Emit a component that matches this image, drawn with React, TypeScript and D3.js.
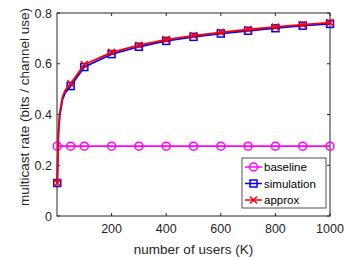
import React, { useRef, useEffect } from 'react';
import * as d3 from 'd3';

const users = [1, 5, 10, 20, 30, 50, 100, 200, 300, 400, 500, 600, 700, 800, 900, 1000];
const markedUsers = [1, 50, 100, 200, 300, 400, 500, 600, 700, 800, 900, 1000];
const baseline = [0.275, 0.275, 0.275, 0.275, 0.275, 0.275, 0.275, 0.275, 0.275, 0.275, 0.275, 0.275, 0.275, 0.275, 0.275, 0.275];
const simulation = [0.13, 0.32, 0.395, 0.46, 0.485, 0.512, 0.587, 0.638, 0.667, 0.69, 0.706, 0.719, 0.73, 0.74, 0.75, 0.757];
const approx = [0.13, 0.33, 0.405, 0.47, 0.495, 0.522, 0.597, 0.645, 0.673, 0.695, 0.711, 0.724, 0.735, 0.745, 0.754, 0.762];
const xTicks = [200, 400, 600, 800, 1000];
const yTicks = [0, 0.2, 0.4, 0.6, 0.8];

const seriesList = [
  { name: 'baseline', values: baseline, color: '#ff00ff', marker: 'circle' },
  { name: 'simulation', values: simulation, color: '#0000ff', marker: 'square' },
  { name: 'approx', values: approx, color: '#ff0000', marker: 'x' },
];

function App() {
  const svgRef = useRef(null);

  useEffect(() => {
    const width = 347;
    const height = 260;
    const margin = { top: 13, right: 17, bottom: 44, left: 57 };
    const svg = d3.select(svgRef.current);
    svg.selectAll('*').remove();
    const font = 'Liberation Sans, Arial, sans-serif';
    const axisColor = '#262626';

    const x = d3.scaleLinear().domain([0, 1000]).range([margin.left, width - margin.right]);
    const y = d3.scaleLinear().domain([0, 0.8]).range([height - margin.bottom, margin.top]);

    svg.append('rect')
      .attr('x', 0).attr('y', 0).attr('width', width).attr('height', height)
      .attr('fill', '#fff');

    // box
    svg.append('rect')
      .attr('x', margin.left).attr('y', margin.top)
      .attr('width', x(1000) - margin.left)
      .attr('height', y(0) - margin.top)
      .attr('fill', 'none')
      .attr('stroke', axisColor)
      .attr('stroke-width', 1);

    // ticks, inside the box
    const tickLen = 3;
    xTicks.forEach(t => {
      svg.append('line').attr('x1', x(t)).attr('x2', x(t))
        .attr('y1', y(0)).attr('y2', y(0) - tickLen).attr('stroke', axisColor);
      svg.append('line').attr('x1', x(t)).attr('x2', x(t))
        .attr('y1', margin.top).attr('y2', margin.top + tickLen).attr('stroke', axisColor);
      svg.append('text').attr('x', x(t)).attr('y', y(0) + 17)
        .attr('text-anchor', 'middle').attr('font-family', font).attr('font-size', 12.5)
        .attr('fill', axisColor).text(t);
    });
    yTicks.forEach(t => {
      svg.append('line').attr('x1', margin.left).attr('x2', margin.left + tickLen)
        .attr('y1', y(t)).attr('y2', y(t)).attr('stroke', axisColor);
      svg.append('line').attr('x1', x(1000)).attr('x2', x(1000) - tickLen)
        .attr('y1', y(t)).attr('y2', y(t)).attr('stroke', axisColor);
      svg.append('text').attr('x', margin.left - 5).attr('y', y(t) + 4.5)
        .attr('text-anchor', 'end').attr('font-family', font).attr('font-size', 12.5)
        .attr('fill', axisColor).text(t);
    });

    svg.append('text')
      .attr('x', x(500)).attr('y', 254)
      .attr('text-anchor', 'middle').attr('font-family', font).attr('font-size', 13.5)
      .attr('fill', axisColor).text('number of users (K)');
    svg.append('text')
      .attr('transform', `translate(29, 107) rotate(-90)`)
      .attr('text-anchor', 'middle').attr('font-family', font).attr('font-size', 13.5)
      .attr('fill', axisColor).text('multicast rate (bits / channel use)');

    const drawMarker = (g, marker, color, cx, cy) => {
      if (marker === 'circle') {
        g.append('circle').attr('cx', cx).attr('cy', cy).attr('r', 4)
          .attr('fill', 'none').attr('stroke', color).attr('stroke-width', 1.5);
      } else if (marker === 'square') {
        g.append('rect').attr('x', cx - 3.5).attr('y', cy - 3.5).attr('width', 7).attr('height', 7)
          .attr('fill', 'none').attr('stroke', color).attr('stroke-width', 1.5);
      } else {
        const s = 3.5;
        g.append('path').attr('d', `M${cx - s},${cy - s}L${cx + s},${cy + s}M${cx - s},${cy + s}L${cx + s},${cy - s}`)
          .attr('stroke', color).attr('stroke-width', 1.5);
      }
    };

    const line = d3.line().x((d: any) => x(d[0])).y((d: any) => y(d[1]));
    seriesList.forEach(s => {
      const pts = users.map((u, i) => [u, s.values[i]]);
      const g = svg.append('g');
      g.append('path').attr('d', line(pts as any)).attr('fill', 'none')
        .attr('stroke', s.color).attr('stroke-width', 1.8).attr('stroke-linejoin', 'round');
      pts.filter(p => markedUsers.includes(p[0]))
        .forEach(p => drawMarker(g, s.marker, s.color, x(p[0]), y(p[1])));
    });

    // legend
    const lg = svg.append('g');
    const lx = 242, ly = 158, lw = 84, lh = 50;
    lg.append('rect').attr('x', lx).attr('y', ly).attr('width', lw).attr('height', lh)
      .attr('fill', '#fff').attr('stroke', axisColor).attr('stroke-width', 0.8);
    seriesList.forEach((s, i) => {
      const cy = ly + 9 + i * 16.5;
      lg.append('line').attr('x1', lx + 3).attr('x2', lx + 20).attr('y1', cy).attr('y2', cy)
        .attr('stroke', s.color).attr('stroke-width', 1.5);
      drawMarker(lg, s.marker, s.color, lx + 11.5, cy);
      lg.append('text').attr('x', lx + 22).attr('y', cy + 4)
        .attr('font-family', font).attr('font-size', 11.5).attr('fill', '#000').text(s.name);
    });
  }, []);

  return (
    <svg ref={svgRef} width={347} height={260} style={{ position: 'absolute', left: 0, top: 0 }}></svg>
  );
}

export default App;
